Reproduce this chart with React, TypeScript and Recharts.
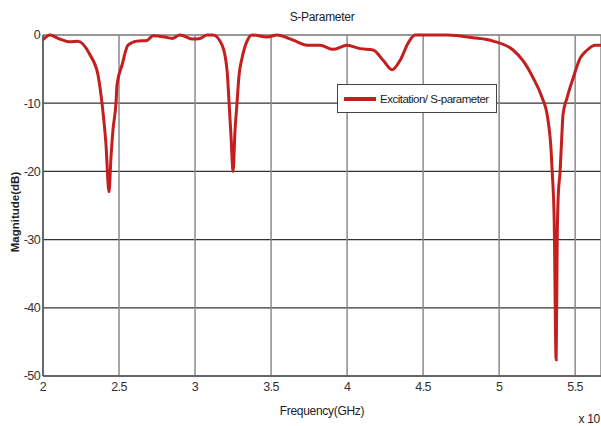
import React from 'react';
import { LineChart, Line, XAxis, YAxis, CartesianGrid, Customized } from 'recharts';

// frequency in GHz (axis shows x 10^9 in the original)
const freq = [
  2.0, 2.046, 2.1, 2.178, 2.23, 2.309, 2.362, 2.388, 2.414, 2.434, 2.447, 2.46, 2.48, 2.487,
  2.52, 2.559, 2.618, 2.684, 2.724, 2.803, 2.849, 2.901, 2.987, 3.033, 3.079, 3.118, 3.178,
  3.211, 3.224, 3.237, 3.25, 3.263, 3.276, 3.289, 3.309, 3.342, 3.375, 3.474, 3.539, 3.605,
  3.671, 3.737, 3.822, 3.908, 4.0, 4.086, 4.171, 4.237, 4.296, 4.349, 4.401, 4.447, 4.658,
  4.829, 4.961, 5.092, 5.158, 5.224, 5.283, 5.316, 5.342, 5.349, 5.362, 5.375, 5.382, 5.388,
  5.401, 5.414, 5.42, 5.447, 5.487, 5.533, 5.579, 5.632, 5.671,
];

const magnitude = [
  -0.7, 0, -0.5, -1.0, -0.9, -2.9, -5.9, -10, -16, -23, -18, -14, -10, -7.3,
  -4.4, -1.5, -0.9, -0.8, -0.1, -0.3, -0.5, 0, -0.6, -0.5, 0, 0, -1.5,
  -5.3, -10, -15, -20, -14, -10, -6, -3.4, -0.9, 0, -0.3, 0, -0.4,
  -1.0, -1.5, -1.5, -2.1, -1.5, -2.0, -2.2, -3.7, -5.1, -3.7, -1.2, 0, 0,
  -0.4, -0.9, -2.2, -3.8, -6.3, -9.2, -11.7, -17, -20, -27, -47.6, -30, -24,
  -20, -14, -11.7, -9.2, -6.3, -3.4, -2.2, -1.5, -1.5,
];

const xTicks = [2, 2.5, 3, 3.5, 4, 4.5, 5, 5.5];
const yTicks = [0, -10, -20, -30, -40, -50];

const seriesName = 'Excitation/ S-parameter';

const data = freq.map((f, i) => ({ f, s: magnitude[i] }));

const FONT = '"Liberation Sans Narrow", "Liberation Sans", Arial, sans-serif';

const Labels = () => (
  <g fontFamily={FONT} fill="#222">
    <text x={322} y={21} fontSize={12} textAnchor="middle" letterSpacing={-0.3}>S-Parameter</text>
    <text x={322} y={415} fontSize={12} textAnchor="middle" letterSpacing={-0.3}>Frequency(GHz)</text>
    <text x={600} y={423} fontSize={12} textAnchor="end" letterSpacing={-0.3}>x 10</text>
    <text x={19} y={212} fontSize={11.5} fontWeight="bold" textAnchor="middle" transform="rotate(-90 19 212)">
      Magnitude(dB)
    </text>
  </g>
);

const tickStyle = { fill: '#333', fontSize: 12.5, fontFamily: FONT, letterSpacing: -0.6 };

export default function App() {
  return (
    <div style={{ position: 'absolute', left: 0, top: 0, width: 601, height: 426, background: '#fff' }}>
      <LineChart width={601} height={426} data={data} margin={{ top: 35, right: 0, bottom: 20, left: 0 }}>
        <CartesianGrid horizontal={true} vertical={false} stroke="#333" strokeWidth={1.2} />
        <CartesianGrid horizontal={false} vertical={true} stroke="#8a8a8a" strokeWidth={1.5} />
        <XAxis
          dataKey="f"
          type="number"
          domain={[2, 5.67]}
          ticks={xTicks}
          allowDataOverflow
          height={30}
          tickLine={false}
          axisLine={{ stroke: '#555', strokeWidth: 1.5 }}
          tickSize={4}
          tick={tickStyle}
        />
        <YAxis
          type="number"
          domain={[-50, 0]}
          ticks={yTicks}
          width={43}
          tickLine={false}
          axisLine={{ stroke: '#555', strokeWidth: 1.5 }}
          tickSize={0}
          tickMargin={3}
          tick={tickStyle}
        />
        <Line
          type="monotone"
          dataKey="s"
          name={seriesName}
          stroke="#c41e1e"
          strokeWidth={3}
          dot={false}
          isAnimationActive={false}
        />
        <Customized component={Labels} />
      </LineChart>
      <div
        style={{
          position: 'absolute',
          left: 337,
          top: 84,
          width: 160,
          height: 29,
          border: '1px solid #444',
          background: '#fff',
          display: 'flex',
          alignItems: 'center',
          fontFamily: FONT,
          fontSize: 11.5,
          letterSpacing: -0.5,
          whiteSpace: 'nowrap',
          color: '#222',
          boxSizing: 'border-box',
        }}
      >
        <span style={{ display: 'inline-block', width: 32, height: 4, background: '#c41e1e', marginLeft: 6, marginRight: 4 }} />
        <span>{seriesName}</span>
      </div>
    </div>
  );
}
